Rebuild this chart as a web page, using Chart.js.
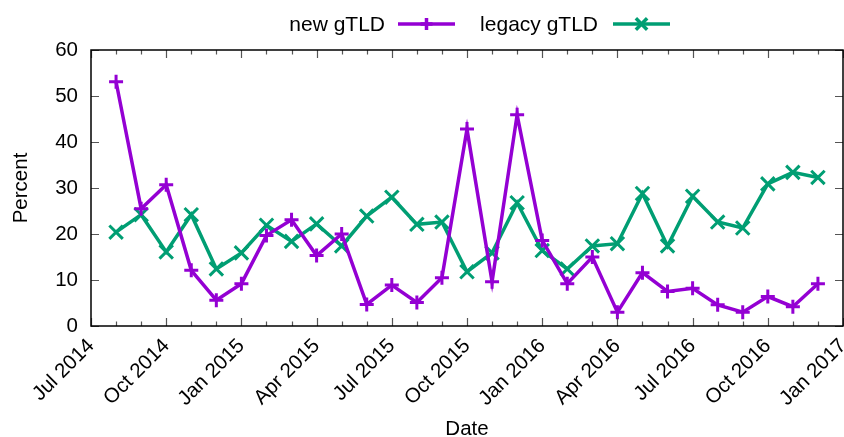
<!DOCTYPE html>
<html>
<head>
<meta charset="utf-8">
<script src="https://cdn.jsdelivr.net/npm/chart.js@4"></script>
<style>
  html, body { margin: 0; padding: 0; background: #fff; }
  #wrap { position: relative; width: 844px; height: 437px; }
</style>
</head>
<body>
<div id="wrap"><canvas id="c" width="844" height="437"></canvas></div>
<script>
// ---- data ----
const months = ['2014-08','2014-09','2014-10','2014-11','2014-12',
  '2015-01','2015-02','2015-03','2015-04','2015-05','2015-06','2015-07','2015-08','2015-09','2015-10','2015-11','2015-12',
  '2016-01','2016-02','2016-03','2016-04','2016-05','2016-06','2016-07','2016-08','2016-09','2016-10','2016-11','2016-12'];
const newGTLD = [53.1, 25.5, 30.7, 12.1, 5.6,
  9.2, 19.7, 23.1, 15.3, 20.0, 4.7, 8.9, 5.1, 10.5, 42.8, 9.6, 45.9,
  18.6, 9.2, 15.0, 3.0, 11.6, 7.5, 8.2, 4.6, 3.0, 6.4, 4.2, 9.2];
const legacyGTLD = [20.4, 24.2, 16.1, 24.2, 12.4,
  15.9, 21.9, 18.4, 22.2, 17.4, 23.9, 28.0, 22.1, 22.6, 11.8, 15.9, 26.8,
  16.4, 12.4, 17.4, 17.9, 28.8, 17.4, 28.2, 22.6, 21.3, 30.9, 33.4, 32.3];
const tickLabels = ['Jul 2014','Oct 2014','Jan 2015','Apr 2015','Jul 2015','Oct 2015',
  'Jan 2016','Apr 2016','Jul 2016','Oct 2016','Jan 2017'];
const seriesNames = ['new gTLD', 'legacy gTLD'];

// months since Jul 2014
function monthIndex(s) {
  const [y, m] = s.split('-').map(Number);
  return (y - 2014) * 12 + (m - 7);
}
const toPts = arr => arr.map((v, i) => ({ x: monthIndex(months[i]), y: v }));

const PURPLE = '#9400d3';
const GREEN = '#009e73';
const FONT = "'Liberation Sans', Arial, Helvetica, sans-serif";

const framePlugin = {
  id: 'frame',
  afterDatasetsDraw(chart) {
    const { ctx, chartArea: a, scales: { x, y } } = chart;
    ctx.save();
    ctx.strokeStyle = '#555';
    ctx.lineWidth = 1.2;
    ctx.beginPath();
    for (let v = x.min; v <= x.max; v++) {
      const px = Math.round(x.getPixelForValue(v)) + 0.5;
      const len = (v % 3 === 0) ? 8 : 4.5;
      ctx.moveTo(px, a.bottom); ctx.lineTo(px, a.bottom - len);
      ctx.moveTo(px, a.top); ctx.lineTo(px, a.top + len);
    }
    for (let v = y.min; v <= y.max; v += 10) {
      const py = Math.round(y.getPixelForValue(v)) + 0.5;
      ctx.moveTo(a.left, py); ctx.lineTo(a.left + 8, py);
      ctx.moveTo(a.right, py); ctx.lineTo(a.right - 8, py);
    }
    ctx.stroke();
    ctx.strokeStyle = '#000';
    ctx.lineWidth = 1.5;
    ctx.strokeRect(a.left, a.top, a.right - a.left, a.bottom - a.top);
    ctx.restore();
  },
  afterDraw(chart) {
    const { ctx } = chart;
    ctx.save();
    ctx.font = "21px " + FONT;
    ctx.fillStyle = '#000';
    ctx.textBaseline = 'middle';
    ctx.textAlign = 'right';
    const items = [
      { textRight: 385, lineL: 398, lineR: 455, r: 6 },
      { textRight: 598, lineL: 613, lineR: 670, r: 8 }
    ];
    const yc = 24;
    chart.data.datasets.forEach((ds, i) => {
      const it = items[i];
      ctx.fillText(ds.label, it.textRight, yc + 1);
      ctx.strokeStyle = ds.borderColor;
      ctx.lineWidth = ds.borderWidth;
      ctx.beginPath();
      ctx.moveTo(it.lineL, yc); ctx.lineTo(it.lineR, yc);
      ctx.stroke();
      Chart.helpers.drawPoint(ctx, {
        pointStyle: ds.pointStyle, radius: it.r, borderWidth: ds.pointBorderWidth, rotation: 0
      }, (it.lineL + it.lineR) / 2, yc);
    });
    ctx.restore();
  }
};

new Chart(document.getElementById('c'), {
  type: 'line',
  data: {
    datasets: [
      { label: seriesNames[0], data: toPts(newGTLD), borderColor: PURPLE, backgroundColor: PURPLE,
        borderWidth: 3.5, pointStyle: 'cross', pointRadius: 7, pointBorderWidth: 3, pointHoverRadius: 7, tension: 0 },
      { label: seriesNames[1], data: toPts(legacyGTLD), borderColor: GREEN, backgroundColor: GREEN,
        borderWidth: 3.5, pointStyle: 'crossRot', pointRadius: 9.5, pointBorderWidth: 3, pointHoverRadius: 9.5, tension: 0 }
    ]
  },
  options: {
    responsive: false,
    animation: false,
    devicePixelRatio: 1,
    layout: { autoPadding: false, padding: { top: 50, right: 1, bottom: 0, left: 0 } },
    plugins: { legend: { display: false }, tooltip: { enabled: false }, title: { display: false } },
    scales: {
      x: {
        type: 'linear', min: 0, max: 30,
        grid: { display: false, drawTicks: false },
        border: { display: false },
        ticks: {
          stepSize: 1, autoSkip: false, maxRotation: 45, minRotation: 45, padding: 8,
          color: '#000', font: { family: FONT, size: 20.5 },
          callback: (v) => (v % 3 === 0 ? tickLabels[v / 3] : '')
        },
        title: { display: true, text: 'Date', color: '#000', font: { family: FONT, size: 20.5 }, padding: { top: 0, bottom: -4.5 } },
        afterFit(s) { s.height = 111; s.paddingLeft = 0; s.paddingRight = 0; }
      },
      y: {
        min: 0, max: 60,
        grid: { display: false, drawTicks: false },
        border: { display: false },
        ticks: { stepSize: 10, padding: 13, color: '#000', font: { family: FONT, size: 20.5 } },
        title: { display: true, text: 'Percent', color: '#000', font: { family: FONT, size: 20.5 }, padding: { top: 9, bottom: 0 } },
        afterFit(s) { s.width = 91; s.paddingTop = 0; s.paddingBottom = 0; }
      }
    }
  },
  plugins: [framePlugin]
});
</script>
</body>
</html>
